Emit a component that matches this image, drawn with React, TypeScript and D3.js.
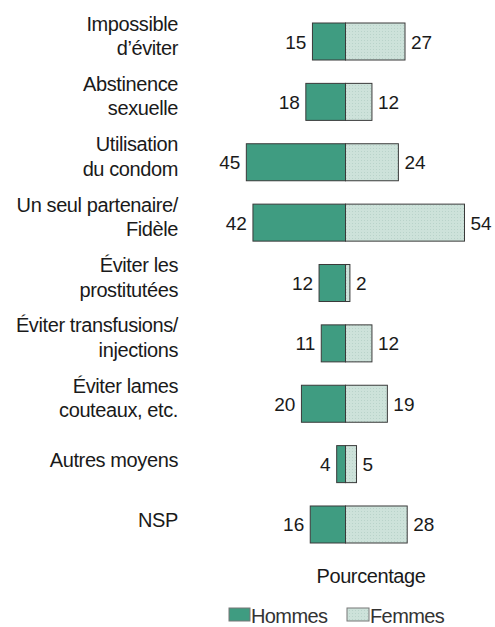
import React from 'react';
import * as d3 from 'd3';

const categories = [
  'Impossible d’éviter',
  'Abstinence sexuelle',
  'Utilisation du condom',
  'Un seul partenaire/ Fidèle',
  'Éviter les prostitutées',
  'Éviter transfusions/ injections',
  'Éviter lames couteaux, etc.',
  'Autres moyens',
  'NSP',
];
const categoryLines = [
  ['Impossible', 'd’éviter'],
  ['Abstinence', 'sexuelle'],
  ['Utilisation', 'du condom'],
  ['Un seul partenaire/', 'Fidèle'],
  ['Éviter les', 'prostitutées'],
  ['Éviter transfusions/', 'injections'],
  ['Éviter lames', 'couteaux, etc.'],
  ['Autres moyens'],
  ['NSP'],
];
const hommes = [15, 18, 45, 42, 12, 11, 20, 4, 16];
const femmes = [27, 12, 24, 54, 2, 12, 19, 5, 28];
const seriesNames = ['Hommes', 'Femmes'];
const axisTitle = 'Pourcentage';

const W = 495;
const H = 627;
const CX = 345.5;
const FONT = '"Liberation Sans", Arial, Helvetica, sans-serif';
const GREEN = '#3f9c81';
const LIGHT = '#cde2da';
const STROKE = '#3a3a3a';

export default function App() {
  const y = d3.scaleBand<string>().domain(categories).range([23, 543]).paddingInner(0.387);
  const x = d3.scaleLinear().domain([0, 54]).range([0, 119]);
  const bw = y.bandwidth();

  return (
    <svg width={W} height={H} style={{ position: 'absolute', left: 0, top: 0, background: '#fff' }}>
      <defs>
        <pattern id="dots" width="3" height="3" patternUnits="userSpaceOnUse">
          <rect width="3" height="3" fill={LIGHT} />
          <rect x="1" y="1" width="1" height="1" fill="#b9d3ca" />
        </pattern>
      </defs>
      {categories.map((c, i) => {
        const y0 = y(c)!;
        const cy = y0 + bw / 2;
        const lines = categoryLines[i];
        const h = hommes[i];
        const f = femmes[i];
        return (
          <g key={c}>
            <text textAnchor="end" fontFamily={FONT} fontSize={20} fill="#1a1a1a" letterSpacing={-0.4}>
              {lines.length === 2 ? (
                <>
                  <tspan x={178} y={cy - 11}>{lines[0]}</tspan>
                  <tspan x={178} y={cy + 13.5}>{lines[1]}</tspan>
                </>
              ) : (
                <tspan x={178} y={cy + 3}>{lines[0]}</tspan>
              )}
            </text>
            <rect x={CX - x(h)} y={y0} width={x(h)} height={bw} fill={GREEN} stroke={STROKE} strokeWidth={1} />
            <rect x={CX} y={y0} width={x(f)} height={bw} fill="url(#dots)" stroke={STROKE} strokeWidth={1} />
            <text x={CX - x(h) - 6} y={cy + 7} textAnchor="end" fontFamily={FONT} fontSize={19} fill="#1a1a1a">
              {h}
            </text>
            <text x={CX + x(f) + 6} y={cy + 7} textAnchor="start" fontFamily={FONT} fontSize={19} fill="#1a1a1a">
              {f}
            </text>
          </g>
        );
      })}
      <text x={371} y={583} textAnchor="middle" fontFamily={FONT} fontSize={20} fill="#1a1a1a" letterSpacing={-0.4}>
        {axisTitle}
      </text>
      <g>
        <rect x={229} y={608} width={21} height={13} fill={GREEN} stroke="#777" strokeWidth={1} />
        <text x={251} y={623} fontFamily={FONT} fontSize={20} fill="#333" letterSpacing={-0.6}>
          {seriesNames[0]}
        </text>
        <rect x={347} y={608} width={22} height={13} fill="url(#dots)" stroke="#777" strokeWidth={1} />
        <text x={370} y={623} fontFamily={FONT} fontSize={20} fill="#333" letterSpacing={-0.6}>
          {seriesNames[1]}
        </text>
      </g>
    </svg>
  );
}
